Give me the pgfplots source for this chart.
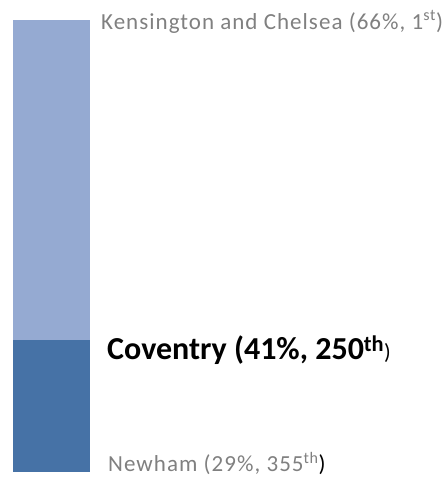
\documentclass[border=0pt]{standalone}
\usepackage{pgfplots}
\pgfplotsset{compat=1.18}
\usepackage{fontspec}
\setmainfont{Carlito}
\newfontfamily\spaced[LetterSpace=4.5]{Carlito}
\definecolor{lightbar}{RGB}{149,170,210}
\definecolor{darkbar}{RGB}{70,114,166}
\definecolor{graytxt}{RGB}{128,128,128}
\begin{document}
\begin{tikzpicture}[x=1bp,y=1bp]
\path[use as bounding box] (0,0) rectangle (448,478);
\begin{axis}[
  at={(13bp,6bp)}, anchor=south west,
  scale only axis, width=77bp, height=452bp,
  xmin=-0.5, xmax=0.5, ymin=30.7, ymax=66,
  axis lines=none, ticks=none,
  ybar stacked, bar width=77bp,
  clip=false,
]
\addplot[fill=darkbar, draw=none] coordinates {(0,41)};
\addplot[fill=lightbar, draw=none] coordinates {(0,25)};
\end{axis}
\node[anchor=base west, inner sep=0, font=\spaced\fontsize{23bp}{26bp}\selectfont, text=graytxt] at (101,448) {Kensington and Chelsea (66\%, 1\textsuperscript{st})};
\node[anchor=base west, inner sep=0, font=\fontsize{32bp}{35bp}\bfseries\selectfont] at (107,118) {Coventry (41\%, 250\textsuperscript{th}\mdseries\fontsize{22bp}{24bp}\selectfont)};
\node[anchor=base west, inner sep=0, font=\spaced\fontsize{23bp}{26bp}\selectfont, text=graytxt] at (108,6) {Newham (29\%, 355\textsuperscript{th}\textcolor{black}{)}};
\end{tikzpicture}
\end{document}
